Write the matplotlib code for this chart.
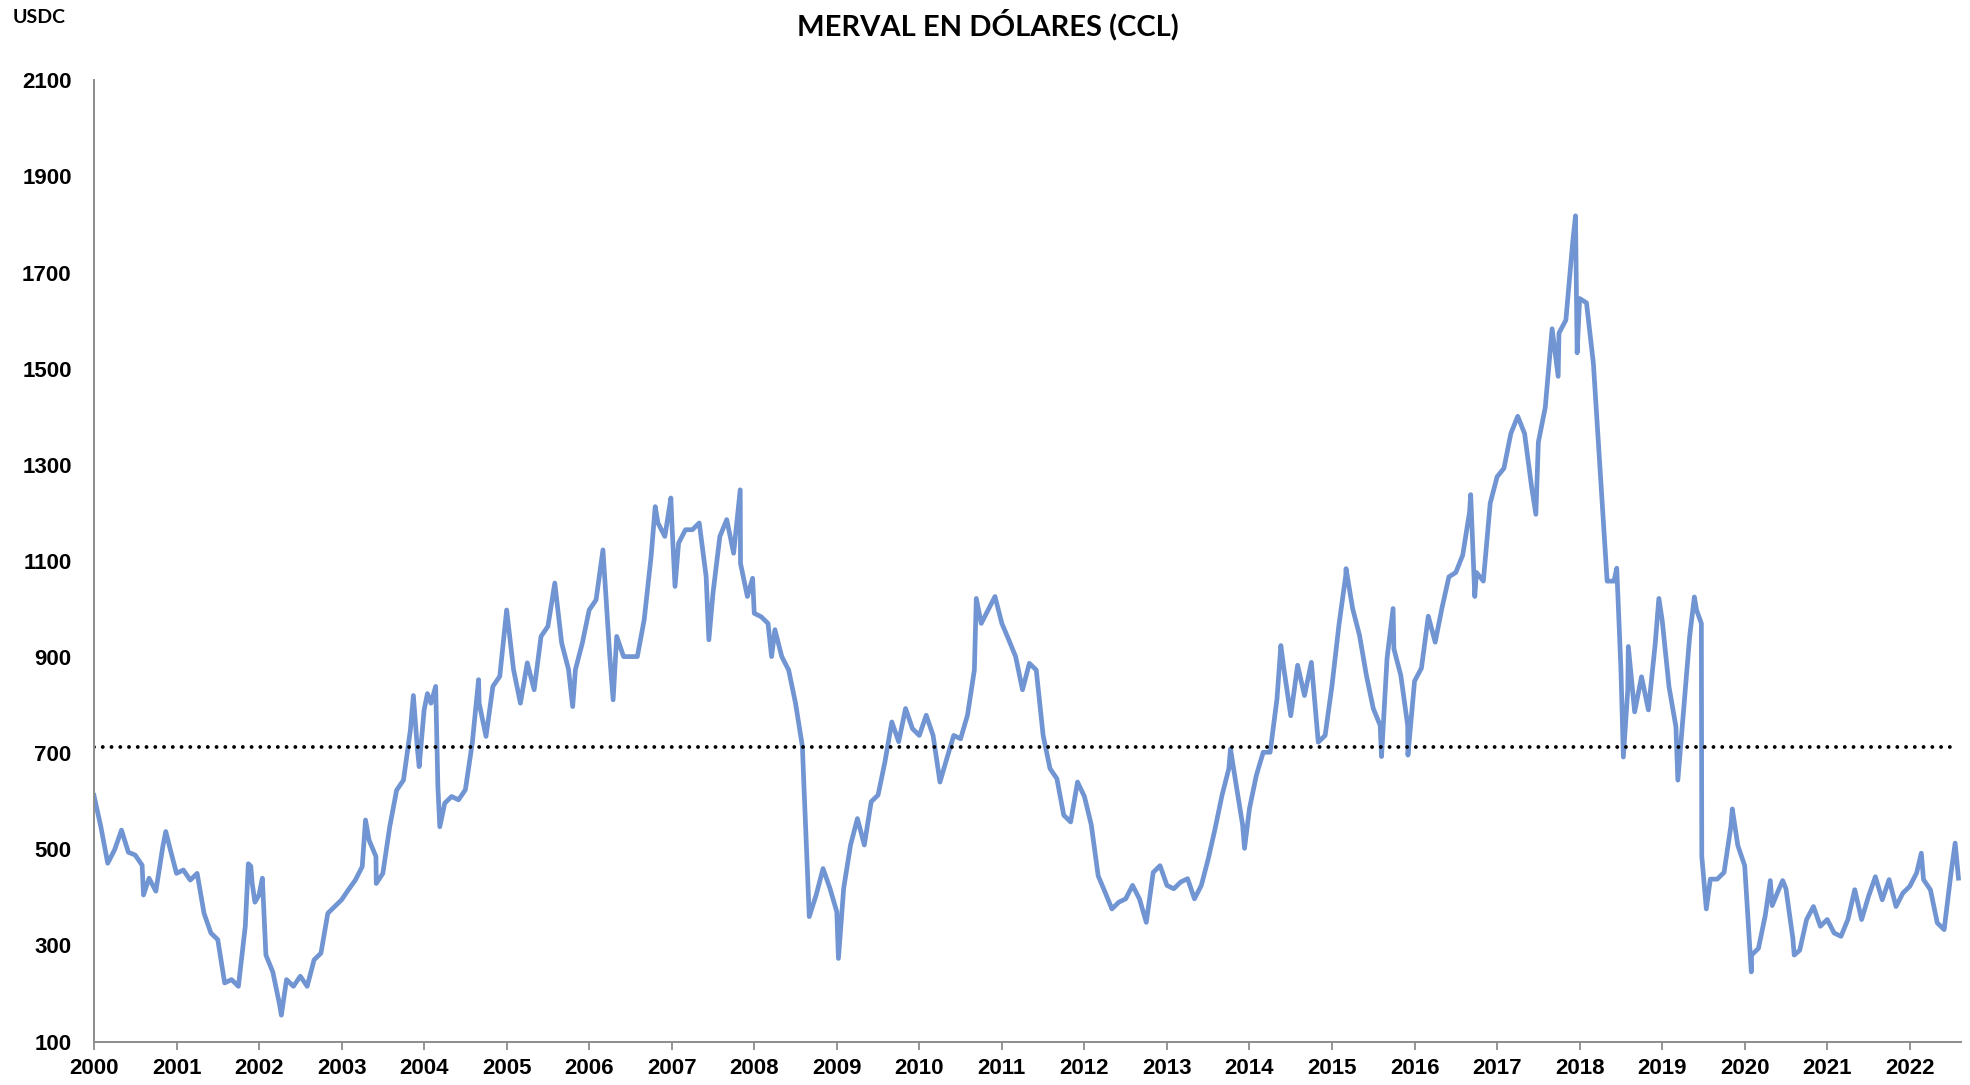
import numpy as np
import matplotlib
matplotlib.use("Agg")
import matplotlib.pyplot as plt

# MERVAL en dolares CCL, valores mensuales (ene-2000 a jul-2022)
merval_mensual = [
    612, 547, 471, 499, 540, 494, 488, 467, 440, 413, 505, 505,     # 2000
    450, 457, 436, 450, 367, 326, 312, 222, 229, 215, 340, 430,     # 2001
    405, 280, 245, 176, 229, 215, 236, 215, 270, 284, 367, 381,     # 2002
    395, 416, 436, 464, 519, 485, 450, 547, 623, 644, 748, 713,     # 2003
    790, 804, 631, 596, 610, 603, 624, 721, 804, 735, 839, 860,     # 2004
    998, 874, 804, 888, 832, 943, 964, 1054, 929, 874, 874, 929,    # 2005
    998, 1019, 1123, 901, 943, 901, 901, 901, 978, 1109, 1179, 1151,  # 2006
    1186, 1137, 1165, 1165, 1179, 1068, 1033, 1151, 1186, 1116, 1095, 1026,  # 2007
    991, 984, 970, 957, 901, 873, 804, 714, 360, 405, 460, 419,     # 2008
    370, 419, 509, 564, 509, 599, 613, 682, 765, 724, 793, 751,     # 2009
    737, 779, 737, 640, 689, 737, 730, 779, 873, 970, 998, 1026,    # 2010
    970, 936, 901, 832, 887, 873, 737, 668, 647, 571, 557, 640,     # 2011
    610, 551, 445, 411, 376, 390, 397, 425, 397, 348, 452, 466,     # 2012
    425, 418, 432, 439, 397, 425, 480, 543, 612, 668, 640, 551,     # 2013
    585, 654, 702, 702, 813, 876, 778, 883, 820, 889, 723, 737,     # 2014
    841, 966, 1070, 1001, 945, 862, 793, 758, 897, 917, 862, 758,   # 2015
    850, 877, 985, 931, 1003, 1067, 1076, 1112, 1202, 1076, 1058, 1220,  # 2016
    1275, 1293, 1365, 1401, 1365, 1256, 1347, 1419, 1583, 1574, 1601, 1764,  # 2017
    1646, 1637, 1511, 1284, 1058, 1058, 877, 832, 786, 859, 790, 929,  # 2018
    977, 838, 755, 769, 943, 998, 445, 438, 438, 452, 549, 508,     # 2019
    466, 280, 294, 363, 383, 418, 418, 315, 290, 354, 381, 340,     # 2020
    354, 326, 319, 354, 416, 354, 402, 443, 395, 437, 381, 409,     # 2021
    423, 451, 437, 416, 347, 333, 451,                              # 2022
]

# picos y caidas entre meses (fecha decimal, valor)
picos_fecha = [2000.60, 2000.87, 2001.87, 2001.90, 2001.95, 2002.04, 2002.27,
               2003.29, 2003.42, 2003.87, 2003.94, 2004.04, 2004.14, 2004.19,
               2004.66, 2005.80, 2006.29, 2006.80, 2006.99, 2007.04, 2007.45,
               2007.83, 2007.98, 2008.21, 2008.60, 2009.02, 2010.69, 2013.77,
               2013.94, 2014.38, 2015.17, 2015.60, 2015.74, 2015.92, 2016.68,
               2016.73, 2017.47, 2017.74, 2017.95, 2017.97, 2018.45, 2018.53,
               2018.59, 2018.96, 2019.19, 2019.39, 2019.475, 2019.48, 2019.535,
               2019.85, 2020.08, 2020.31, 2020.46, 2020.60, 2022.14, 2022.55,
               2022.59]
picos_valor = [405, 537, 470, 465, 390, 440, 155,
               561, 429, 820, 672, 824, 839, 547,
               853, 797, 811, 1213, 1231, 1047, 936,
               1248, 1064, 901, 640, 273, 1022, 709,
               502, 924, 1084, 693, 1001, 696, 1238,
               1026, 1197, 1484, 1818, 1533, 1085, 692,
               922, 1022, 644, 1025, 970, 486, 376,
               584, 245, 435, 435, 280, 492, 513,
               440]

promedio = 712
años = list(range(2000, 2023))
y_ticks = list(range(100, 2101, 200))

fecha_mensual = 2000 + np.arange(len(merval_mensual)) / 12
fecha = np.concatenate([fecha_mensual, picos_fecha])
valor = np.concatenate([merval_mensual, picos_valor])
orden = np.argsort(fecha, kind="stable")
fecha = fecha[orden]
valor = valor[orden]

fig = plt.figure(figsize=(19.7, 10.85), dpi=100)
ax = fig.add_axes([0.0477, 0.040, 0.9477, 0.886])

ax.plot(fecha, valor, color="#7195d2", linewidth=3.4, solid_joinstyle="round")
ax.plot([2000, fecha[-1]], [promedio, promedio], color="black", linewidth=2.8,
        linestyle=(0, (0.001, 2.25)), dash_capstyle="round")

ax.set_xlim(2000, 2022.62)
ax.set_ylim(100, 2100)
ax.set_xticks(años)
ax.set_xticklabels([str(a) for a in años])
ax.set_yticks(y_ticks)
ax.set_yticklabels([str(v) for v in y_ticks])

for s in ["top", "right"]:
    ax.spines[s].set_visible(False)
for s in ["left", "bottom"]:
    ax.spines[s].set_color("#8c8c8c")
    ax.spines[s].set_linewidth(1.4)

ax.tick_params(axis="x", direction="out", length=6, width=1.3, color="#8c8c8c", pad=6)
ax.tick_params(axis="y", length=0, pad=16)
for lab in ax.get_xticklabels() + ax.get_yticklabels():
    lab.set_fontfamily("Liberation Sans")
    lab.set_fontweight("bold")
    lab.set_fontsize(16)

fig.text(0.5016, 0.977, "MERVAL EN DÓLARES (CCL)", ha="center", va="center",
         fontfamily="Lato", fontweight="bold", fontsize=21)
fig.text(0.0066, 0.984, "USDC", ha="left", va="center",
         fontfamily="Lato", fontweight="bold", fontsize=14)

fig.savefig("out.png", dpi=100, facecolor="white")
